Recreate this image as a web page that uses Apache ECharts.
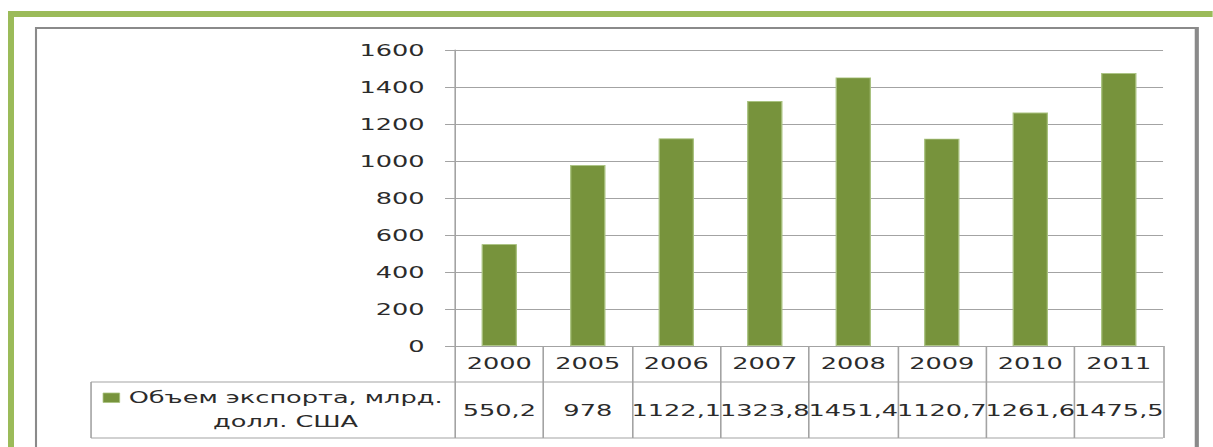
<!DOCTYPE html>
<html>
<head>
<meta charset="utf-8">
<script src="https://cdn.jsdelivr.net/npm/echarts@6/dist/echarts.min.js"></script>
<style>
  html, body { margin: 0; padding: 0; background: #fff; overflow: hidden; }
  /* the reference is stretched sideways, so draw narrow and stretch the whole chart */
  #chart { width: 758px; height: 447px; transform: scaleX(1.6); transform-origin: 0 0; }
</style>
</head>
<body>
<div id="chart"></div>
<script>
var years = ['2000', '2005', '2006', '2007', '2008', '2009', '2010', '2011'];
var exportVolume = [550.2, 978, 1122.1, 1323.8, 1451.4, 1120.7, 1261.6, 1475.5];
var seriesName = 'Объем экспорта, млрд.\nдолл. США';
var yTicks = [0, 200, 400, 600, 800, 1000, 1200, 1400, 1600];

var txt = '#2b2b2b';
var gray = '#a3a3a3';
var font = 'DejaVu Sans';

var W = 758, H = 447;
var gLeft = 284.4, gRight = 726.9, gTop = 50, gBottom = 346;
var row1 = 382, row2 = 438, legLeft = 56.9;

// values are shown with a decimal comma
var valueLabels = exportVolume.map(function (v) { return String(v).replace('.', ','); });

var chart = echarts.init(document.getElementById('chart'), null, { renderer: 'svg' });

var option = {
  animation: false,
  textStyle: { fontFamily: font },
  grid: { left: gLeft, right: W - gRight, top: gTop, bottom: H - gBottom },
  xAxis: [{
    type: 'category',
    data: years,
    position: 'bottom',
    axisLine: { lineStyle: { color: gray, width: 1 } },
    axisTick: { show: true, interval: 0, length: row2 - gBottom, lineStyle: { color: gray } },
    axisLabel: { color: txt, fontSize: 16, fontFamily: font, verticalAlign: 'middle', margin: 17, interval: 0 }
  }, {
    type: 'category',
    data: valueLabels,
    position: 'bottom',
    axisLine: { show: false },
    axisTick: { show: false },
    axisLabel: { color: txt, fontSize: 16, fontFamily: font, verticalAlign: 'middle', margin: 64, interval: 0 }
  }],
  yAxis: {
    type: 'value',
    min: yTicks[0],
    max: yTicks[yTicks.length - 1],
    interval: 200,
    axisLine: { show: true, lineStyle: { color: gray, width: 1 } },
    axisTick: { show: true, length: 6.25, lineStyle: { color: gray } },
    axisLabel: { color: txt, fontSize: 16, fontFamily: font, margin: 19, formatter: function (v) { return String(v); } },
    splitLine: { lineStyle: { color: gray, width: 1 } }
  },
  series: [{
    name: seriesName,
    type: 'bar',
    xAxisIndex: 0,
    data: exportVolume,
    barWidth: '40%',
    itemStyle: { color: '#77933C', borderColor: '#a9c27f', borderWidth: 0.8 }
  }],
  graphic: [
    // green frame
    { type: 'rect', shape: { x: 5, y: 11, width: W - 5, height: 6 }, style: { fill: '#9BBB59' } },
    { type: 'rect', shape: { x: 5, y: 11, width: 3.75, height: H - 11 }, style: { fill: '#9BBB59' } },
    // gray box with shadow on the right
    { type: 'line', shape: { x1: 22.5, y1: 28, x2: 747.5, y2: 28 }, style: { stroke: '#8a8a8a', lineWidth: 2 } },
    { type: 'line', shape: { x1: 22.5, y1: 27, x2: 22.5, y2: H }, style: { stroke: '#8a8a8a', lineWidth: 1.3 } },
    { type: 'line', shape: { x1: 748, y1: 27, x2: 748, y2: H }, style: { stroke: '#8a8a8a', lineWidth: 2.6 } },
    // data table lines
    { type: 'line', shape: { x1: legLeft, y1: row1, x2: gRight, y2: row1 }, style: { stroke: gray, lineWidth: 1 } },
    { type: 'line', shape: { x1: legLeft, y1: row2, x2: gRight, y2: row2 }, style: { stroke: gray, lineWidth: 1 } },
    { type: 'line', shape: { x1: legLeft, y1: row1, x2: legLeft, y2: row2 }, style: { stroke: gray, lineWidth: 1 } },
    // legend key inside the table
    { type: 'rect', shape: { x: 64.4, y: 393, width: 10.4, height: 9.5 }, style: { fill: '#77933C', stroke: '#a9c27f', lineWidth: 0.6 } },
    { type: 'text', x: 178.5, y: 409, style: { text: seriesName, fill: txt, font: '16px "' + font + '"', align: 'center', verticalAlign: 'middle', lineHeight: 24 } }
  ]
};

chart.setOption(option);
</script>
</body>
</html>
